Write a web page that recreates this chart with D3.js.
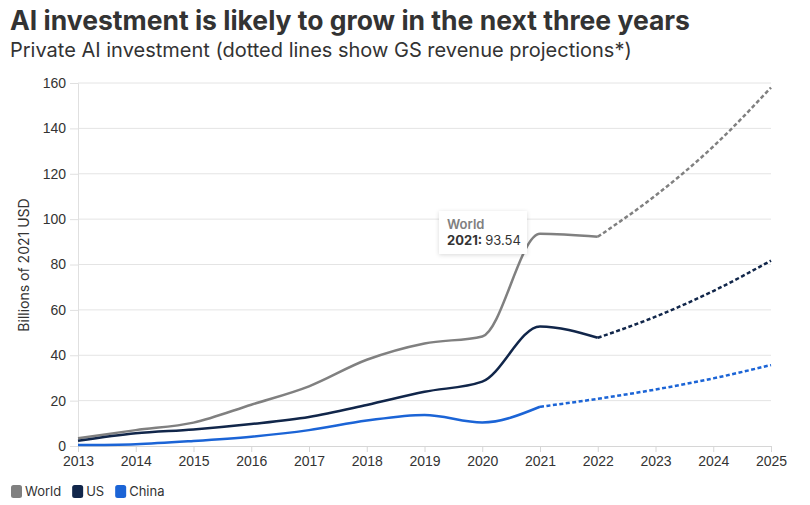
<!DOCTYPE html>
<html>
<head>
<meta charset="utf-8">
<script src="https://cdn.jsdelivr.net/npm/d3@7"></script>
<style>
  body { margin: 0; background: #fff; font-family: Inter, "Noto Sans", sans-serif; }
  .title { font-size: 26.5px; font-weight: 700; fill: #333; }
  .subtitle { font-size: 20px; fill: #333; }
  .tick text { font-size: 14px; fill: #333; }
</style>
</head>
<body>
<div id="root"></div>
<script>
const years = [2013, 2014, 2015, 2016, 2017, 2018, 2019, 2020, 2021, 2022, 2023, 2024, 2025]
const world = [3.4, 7.0, 10.3, 18.2, 26.3, 38.0, 45.2, 48.3, 93.54, 92.2, 110.4, 132.0, 158.0]
const us = [2.3, 5.6, 7.3, 9.7, 12.8, 18.1, 23.9, 28.4, 52.7, 47.7, 57.0, 68.3, 81.7]
const china = [0.4, 0.8, 2.2, 4.1, 7.0, 11.2, 13.7, 10.4, 17.3, 20.8, 24.9, 29.8, 35.7]
const yTicks = [0, 20, 40, 60, 80, 100, 120, 140, 160]

// last year with actual data, projections after that
const series = [
    {name: "World", values: world, color: "#808080", lastActual: 2022},
    {name: "US", values: us, color: "#11264a", lastActual: 2022},
    {name: "China", values: china, color: "#1b64d6", lastActual: 2021},
]

const w = 810, h = 505
const margin = {left: 78, right: 39, top: 83, bottom: 59}

const x = d3.scaleLinear()
    .domain([2013, 2025])
    .range([margin.left, w - margin.right])

const y = d3.scaleLinear()
    .domain([0, 160])
    .range([h - margin.bottom, margin.top])

const svg = d3.select("#root").append("svg")
    .attr("width", w)
    .attr("height", h)

svg.append("text").classed("title", true)
    .attr("x", 10).attr("y", 30)
    .text("AI investment is likely to grow in the next three years")

svg.append("text").classed("subtitle", true)
    .attr("x", 10).attr("y", 57)
    .text("Private AI investment (dotted lines show GS revenue projections*)")

// grid
svg.append("g")
    .selectAll("line")
    .data(yTicks.filter(d => d > 0))
    .join("line")
    .attr("x1", margin.left).attr("x2", w - margin.right)
    .attr("y1", d => y(d)).attr("y2", d => y(d))
    .attr("stroke", "#e4e4e4")

// y axis
const yAxis = svg.append("g")
    .attr("transform", `translate(${margin.left},0)`)
    .call(d3.axisLeft(y).tickValues(yTicks).tickSize(8).tickPadding(4))
yAxis.select(".domain").attr("stroke", "#e0e0e0")
yAxis.selectAll(".tick line").attr("stroke", "#e0e0e0")

// x axis
const xAxis = svg.append("g")
    .attr("transform", `translate(0,${y(0)})`)
    .call(d3.axisBottom(x).tickValues(years).tickFormat(d3.format("d")).tickSize(6).tickPadding(4))
xAxis.select(".domain").attr("stroke", "#d6d6d6")
xAxis.selectAll(".tick line").attr("stroke", "#d6d6d6")
xAxis.selectAll(".tick text").attr("font-size", 14.5)

svg.append("text")
    .attr("transform", `translate(29,265) rotate(-90)`)
    .attr("text-anchor", "middle")
    .attr("font-size", 14)
    .attr("fill", "#333")
    .text("Billions of 2021 USD")

const line = d3.line()
    .x(d => x(d.year))
    .y(d => y(d.value))
    .curve(d3.curveMonotoneX)

series.forEach(s => {
    const pts = years.map((yr, i) => ({year: yr, value: s.values[i]}))
    const actual = pts.filter(d => d.year <= s.lastActual)
    const proj = pts.filter(d => d.year >= s.lastActual)
    svg.append("path")
        .attr("d", line(actual))
        .attr("fill", "none")
        .attr("stroke", s.color)
        .attr("stroke-width", 2.5)
    svg.append("path")
        .attr("d", line(proj))
        .attr("fill", "none")
        .attr("stroke", s.color)
        .attr("stroke-width", 2.5)
        .attr("stroke-dasharray", "4,2.5")
})

// tooltip
const tip = svg.append("g").attr("transform", "translate(439,211)")
const defs = svg.append("defs")
const filt = defs.append("filter").attr("id", "shadow")
    .attr("x", "-20%").attr("y", "-20%").attr("width", "140%").attr("height", "140%")
filt.append("feDropShadow")
    .attr("dx", 0).attr("dy", 1).attr("stdDeviation", 2)
    .attr("flood-color", "#000").attr("flood-opacity", 0.15)
tip.append("rect")
    .attr("width", 88).attr("height", 43)
    .attr("fill", "#fff")
    .attr("filter", "url(#shadow)")
tip.append("text")
    .attr("x", 8).attr("y", 18)
    .attr("font-size", 13).attr("font-weight", 600)
    .attr("fill", "#808080")
    .text("World")
const t2 = tip.append("text")
    .attr("x", 8).attr("y", 34)
    .attr("font-size", 13).attr("fill", "#333")
t2.append("tspan").attr("font-weight", 700).text(years[8] + ": ")
t2.append("tspan").text(world[8])

// legend
let lx = 11
series.forEach(s => {
    const g = svg.append("g").attr("transform", `translate(${lx},485)`)
    g.append("rect")
        .attr("width", 11).attr("height", 13).attr("rx", 2.5)
        .attr("fill", s.color)
    const t = g.append("text")
        .attr("x", 14).attr("y", 11)
        .attr("font-size", 13).attr("fill", "#333")
        .text(s.name)
    lx += 14 + t.node().getComputedTextLength() + 11
})
</script>
</body>
</html>
